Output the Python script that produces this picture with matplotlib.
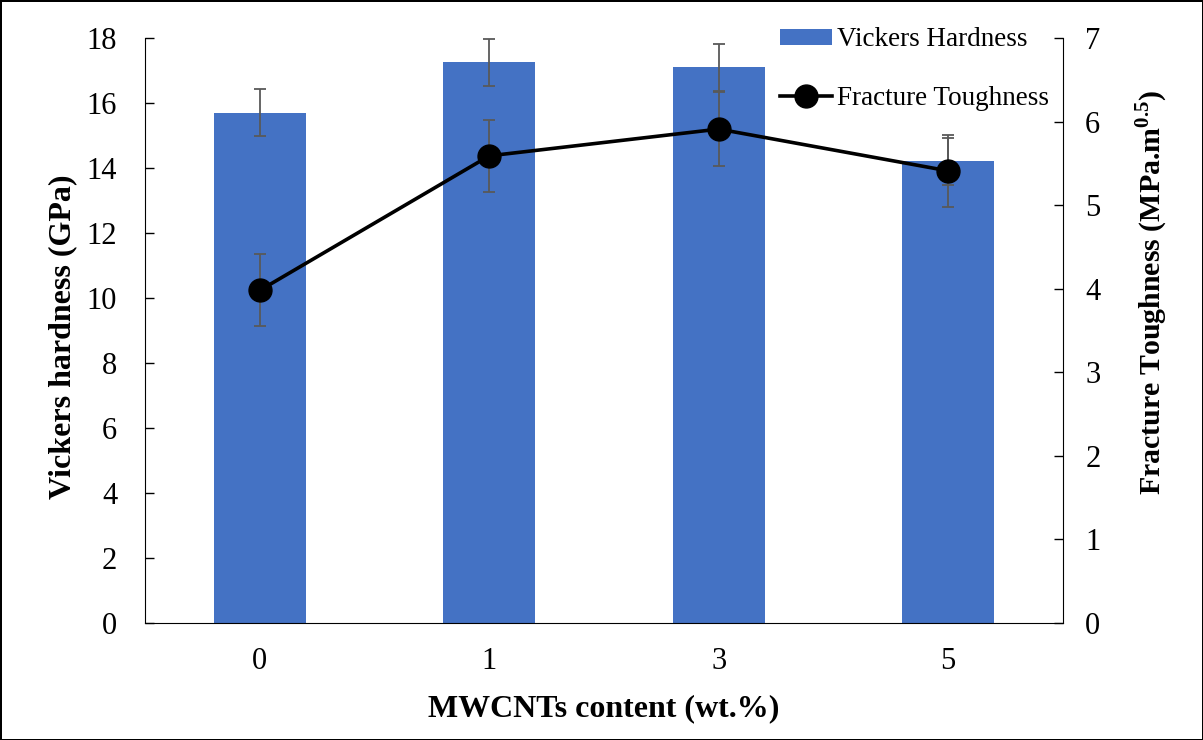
import matplotlib.pyplot as plt
import numpy as np

plt.rcParams["font.family"] = "Liberation Serif"
plt.rcParams["mathtext.fontset"] = "custom"
plt.rcParams["mathtext.rm"] = "Liberation Serif"
plt.rcParams["mathtext.bf"] = "Liberation Serif:bold"

# values
content = ["0", "1", "3", "5"]
hardness = [15.7, 17.25, 17.1, 14.2]
hardness_err = [0.72, 0.72, 0.73, 0.72]
toughness = [3.98, 5.59, 5.91, 5.41]
toughness_err = [0.43, 0.43, 0.44, 0.43]

x = np.arange(len(content))
blue = "#4472C4"
grey = "#595959"

fig = plt.figure(figsize=(12.03, 7.4), dpi=100, edgecolor="black", linewidth=2)
ax = fig.add_axes([145 / 1203, 1 - 623 / 740, 918 / 1203, 585 / 740])

bars = ax.bar(x, hardness, width=0.4, color=blue, label="Vickers Hardness", zorder=2)
ax.errorbar(x, hardness, yerr=hardness_err, fmt="none", ecolor=grey,
            elinewidth=1.3, capsize=4.3, capthick=1.3, zorder=3)
ax.set_xlim(-0.5, 3.5)
ax.set_ylim(0, 18)
ax.set_yticks(range(0, 19, 2))
ax.set_xticks(x)
ax.set_xticklabels(content)
ax.tick_params(axis="y", direction="in", length=6.5, width=1, labelsize=22, pad=20)
ax.tick_params(axis="x", length=0, labelsize=22, pad=17)
ax.spines["top"].set_visible(False)
ax.spines["right"].set_visible(False)
ax.set_ylabel("Vickers hardness (GPa)", fontsize=23, fontweight="bold")
ax.yaxis.set_label_coords(-0.074, 0.49)
ax.set_xlabel("MWCNTs content (wt.%)", fontsize=23, fontweight="bold")
ax.xaxis.set_label_coords(0.5, -0.122)

ax2 = ax.twinx()
ax2.errorbar(x, toughness, yerr=toughness_err, fmt="none", ecolor=grey,
             elinewidth=1.3, capsize=4.3, capthick=1.3, zorder=2)
line, = ax2.plot(x, toughness, color="black", lw=2.6, marker="o", ms=16.5,
                 label="Fracture Toughness", zorder=3)
ax2.set_ylim(0, 7)
ax2.set_yticks(range(0, 8))
ax2.tick_params(axis="y", direction="in", length=6.5, width=1, labelsize=22, pad=16)
for side in ["top", "left", "bottom"]:
    ax2.spines[side].set_visible(False)
ax2.set_ylabel("Fracture Toughness (MPa.m$^{\\mathbf{0.5}}$)", fontsize=21.5, fontweight="bold")
ax2.yaxis.set_label_coords(1.077, 0.565)

ax2.legend([bars, line], ["Vickers Hardness", "Fracture Toughness"],
           loc="upper right", bbox_to_anchor=(1049 / 1203, 1 - 27.5 / 740),
           bbox_transform=fig.transFigure, frameon=False, fontsize=19.5,
           handlelength=1.9, handleheight=0.5, handletextpad=0.2,
           labelspacing=1.22, borderpad=0, borderaxespad=0)

fig.savefig("out.png", dpi=100, edgecolor=fig.get_edgecolor())
